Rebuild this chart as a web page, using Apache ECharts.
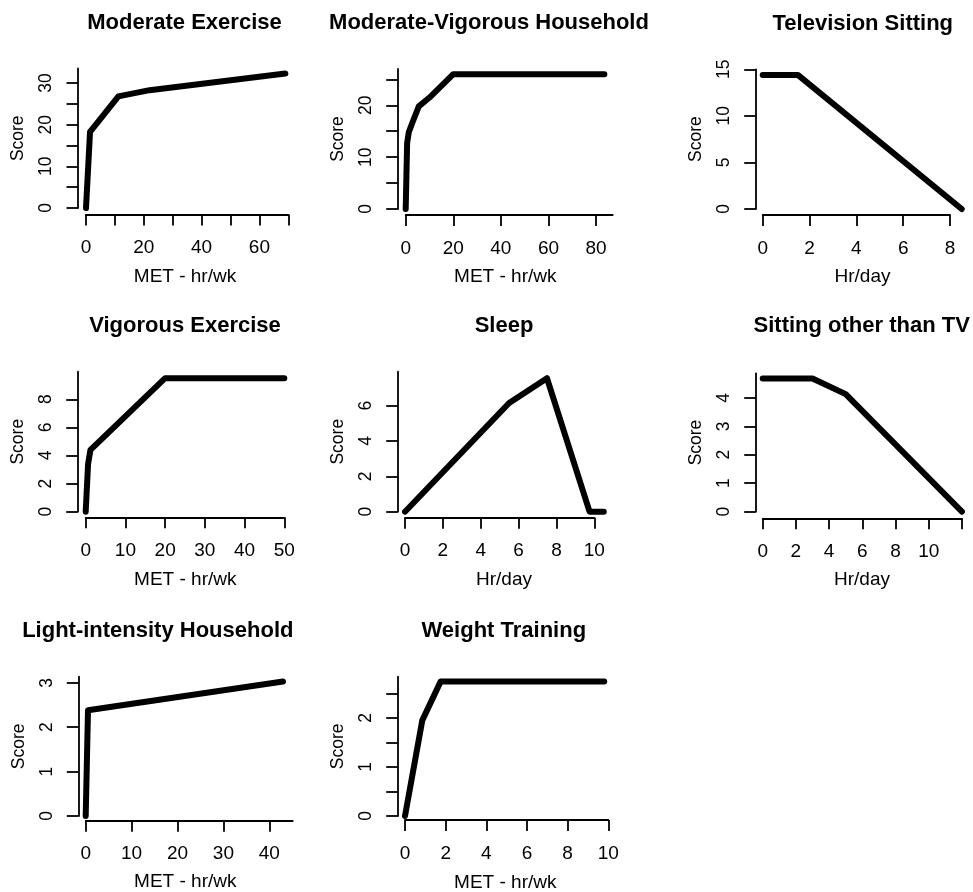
<!DOCTYPE html>
<html>
<head>
<meta charset="utf-8">
<script src="https://cdn.jsdelivr.net/npm/echarts@6/dist/echarts.min.js"></script>
<style>
html,body{margin:0;padding:0;background:#fff;}
#chart{width:973px;height:892px;}
</style>
</head>
<body>
<div id="chart"></div>
<script>
// ---------- data ----------
const panelTitles = ['Moderate Exercise', 'Moderate-Vigorous Household', 'Television Sitting',
  'Vigorous Exercise', 'Sleep', 'Sitting other than TV',
  'Light-intensity Household', 'Weight Training'];
const xAxisNames = ['MET - hr/wk', 'MET - hr/wk', 'Hr/day',
  'MET - hr/wk', 'Hr/day', 'Hr/day',
  'MET - hr/wk', 'MET - hr/wk'];
const yAxisName = 'Score';

const moderateExerciseX = [0, 1.4, 11.2, 22, 69];
const moderateExerciseY = [0, 18.3, 26.8, 28.3, 32.3];
const modVigHouseholdX = [0, 0.6, 1.3, 2.5, 5.5, 10, 20, 83.5];
const modVigHouseholdY = [0, 12.7, 14.8, 16.3, 19.8, 21.5, 26, 26];
const televisionX = [0, 1.5, 8.5];
const televisionY = [14.4, 14.4, 0];
const vigorousX = [0, 0.6, 1.2, 20, 50];
const vigorousY = [0, 3.4, 4.4, 9.5, 9.5];
const sleepX = [0, 5.5, 7.5, 9.75, 10.5];
const sleepY = [0, 6.15, 7.55, 0, 0];
const sittingX = [0, 3, 5, 12];
const sittingY = [4.68, 4.68, 4.13, 0];
const lightHouseholdX = [0, 0.5, 43];
const lightHouseholdY = [0, 2.38, 3.03];
const weightX = [0, 0.85, 1.75, 9.8];
const weightY = [0, 1.95, 2.74, 2.74];

// tick positions and tick labels
const xTicks = [
  [0, 10, 20, 30, 40, 50, 60, 70],
  [0, 20, 40, 60, 80],
  [0, 2, 4, 6, 8],
  [0, 10, 20, 30, 40, 50],
  [0, 2, 4, 6, 8, 10],
  [0, 2, 4, 6, 8, 10, 12],
  [0, 10, 20, 30, 40],
  [0, 2, 4, 6, 8, 10]
];
const xTickLabels = [
  [0, 20, 40, 60],
  [0, 20, 40, 60, 80],
  [0, 2, 4, 6, 8],
  [0, 10, 20, 30, 40, 50],
  [0, 2, 4, 6, 8, 10],
  [0, 2, 4, 6, 8, 10],
  [0, 10, 20, 30, 40],
  [0, 2, 4, 6, 8, 10]
];
const yTicks = [
  [0, 5, 10, 15, 20, 25, 30],
  [0, 5, 10, 15, 20, 25],
  [0, 5, 10, 15],
  [0, 2, 4, 6, 8],
  [0, 2, 4, 6],
  [0, 1, 2, 3, 4],
  [0, 1, 2, 3],
  [0, 0.5, 1, 1.5, 2, 2.5]
];
const yTickLabels = [
  [0, 10, 20, 30],
  [0, 10, 20],
  [0, 5, 10, 15],
  [0, 2, 4, 6, 8],
  [0, 2, 4, 6],
  [0, 1, 2, 3, 4],
  [0, 1, 2, 3],
  [0, 1, 2]
];

const seriesX = [moderateExerciseX, modVigHouseholdX, televisionX, vigorousX, sleepX, sittingX, lightHouseholdX, weightX];
const seriesY = [moderateExerciseY, modVigHouseholdY, televisionY, vigorousY, sleepY, sittingY, lightHouseholdY, weightY];

// ---------- layout (pixels) ----------
const layout = [
  {left: 86,    top: 68.5,  width: 202.3, height: 139.5, xMax: 70,   yMax: 33.5, yOff: 8,   xOff: 6.5, tx: 184.5, ty: 23,    nx: 185,   ny: 276.7},
  {left: 405.7, top: 69,    width: 207,   height: 140,   xMax: 87,   yMax: 27.0, yOff: 8,   xOff: 6,   tx: 489,   ty: 23,    nx: 505.3, ny: 276.5},
  {left: 762.7, top: 69.3,  width: 187.3, height: 139.7, xMax: 8,    yMax: 15,   yOff: 7,   xOff: 6,   tx: 862.8, ty: 24,    nx: 862.5, ny: 276.7},
  {left: 85.7,  top: 371.7, width: 198.6, height: 140,   xMax: 50,   yMax: 9.96, yOff: 8,   xOff: 5.6, tx: 185,   ty: 325.7, nx: 185.3, ny: 580},
  {left: 405,   top: 371.7, width: 189.3, height: 140,   xMax: 10,   yMax: 7.92, yOff: 7.3, xOff: 6,   tx: 504,   ty: 326.3, nx: 504,   ny: 580},
  {left: 762.7, top: 373.3, width: 199.2, height: 138.4, xMax: 12,   yMax: 4.86, yOff: 7,   xOff: 6.6, tx: 861.7, ty: 325.8, nx: 862,   ny: 580},
  {left: 85.7,  top: 676.7, width: 207,   height: 139.3, xMax: 45.1, yMax: 3.137,yOff: 7.4, xOff: 4.7, tx: 157.8, ty: 631,   nx: 185.3, ny: 882},
  {left: 405,   top: 676.7, width: 203.3, height: 139.3, xMax: 10,   yMax: 2.84, yOff: 7.3, xOff: 4,   tx: 503.8, ty: 631,   nx: 505.3, ny: 883}
];
const CHART_W = 973;

const FONT = '"Liberation Sans", Arial, Helvetica, sans-serif';
const axisLineStyle = {color: '#000', width: 1.8};

const grids = [], xAxes = [], yAxes = [], series = [], titles = [];
const N = layout.length;
// axis grids (draw the axis lines, ticks, labels)
layout.forEach((L, i) => {
  grids.push({left: L.left, top: L.top, width: L.width, height: L.height, containLabel: false});
  xAxes.push({
    type: 'value', gridIndex: i, min: 0, max: L.xMax, offset: L.xOff,
    axisLine: {show: true, onZero: false, lineStyle: axisLineStyle},
    axisTick: {show: true, length: 11, lineStyle: axisLineStyle, customValues: xTicks[i]},
    axisLabel: {show: true, customValues: xTickLabels[i], margin: 33.5, verticalAlign: 'middle', align: 'center',
      color: '#000', fontSize: 19, fontFamily: FONT},
    splitLine: {show: false}
  });
  yAxes.push({
    type: 'value', gridIndex: i, min: 0, max: L.yMax, offset: L.yOff,
    name: yAxisName, nameLocation: 'middle', nameRotate: 90, nameGap: 59.5,
    nameTextStyle: {color: '#000', fontSize: 17.5, fontFamily: FONT, align: 'center', verticalAlign: 'middle'},
    axisLine: {show: true, onZero: false, lineStyle: axisLineStyle},
    axisTick: {show: true, length: 11.5, lineStyle: axisLineStyle, customValues: yTicks[i]},
    axisLabel: {show: true, customValues: yTickLabels[i], rotate: 90, margin: 31.5, align: 'center', verticalAlign: 'middle',
      color: '#000', fontSize: 17.5, fontFamily: FONT},
    splitLine: {show: false}
  });
  titles.push({
    text: panelTitles[i], left: L.tx, top: L.ty, textAlign: 'center', textVerticalAlign: 'middle', padding: 0,
    textStyle: {color: '#000', fontSize: 22, fontWeight: 'bold', fontFamily: FONT}
  });
  titles.push({
    text: xAxisNames[i], left: L.nx, top: L.ny, textAlign: 'center', textVerticalAlign: 'middle', padding: 0,
    textStyle: {color: '#000', fontSize: 19, fontWeight: 'normal', fontFamily: FONT}
  });
});
// data grids: same scale, larger extent (kept inside the canvas) so curves are not cut at the axis ends
layout.forEach((L, i) => {
  const g = N + i;
  const extX = Math.min(1.2, (CHART_W - 4 - L.left) / L.width);
  const extY = 1.2;
  grids.push({left: L.left, top: L.top - (extY - 1) * L.height, width: L.width * extX, height: L.height * extY, containLabel: false});
  xAxes.push({type: 'value', gridIndex: g, min: 0, max: L.xMax * extX, show: false, splitLine: {show: false}});
  yAxes.push({type: 'value', gridIndex: g, min: 0, max: L.yMax * extY, show: false, splitLine: {show: false}});
  series.push({
    type: 'line', xAxisIndex: g, yAxisIndex: g,
    data: seriesX[i].map((x, k) => [x, seriesY[i][k]]),
    showSymbol: false, symbol: 'none', clip: false, silent: true,
    lineStyle: {color: '#000', width: 6, cap: 'round', join: 'round'}
  });
});

const chart = echarts.init(document.getElementById('chart'), null, {renderer: 'canvas'});
chart.setOption({
  animation: false,
  backgroundColor: '#fff',
  title: titles,
  grid: grids,
  xAxis: xAxes,
  yAxis: yAxes,
  series: series
});
</script>
</body>
</html>
